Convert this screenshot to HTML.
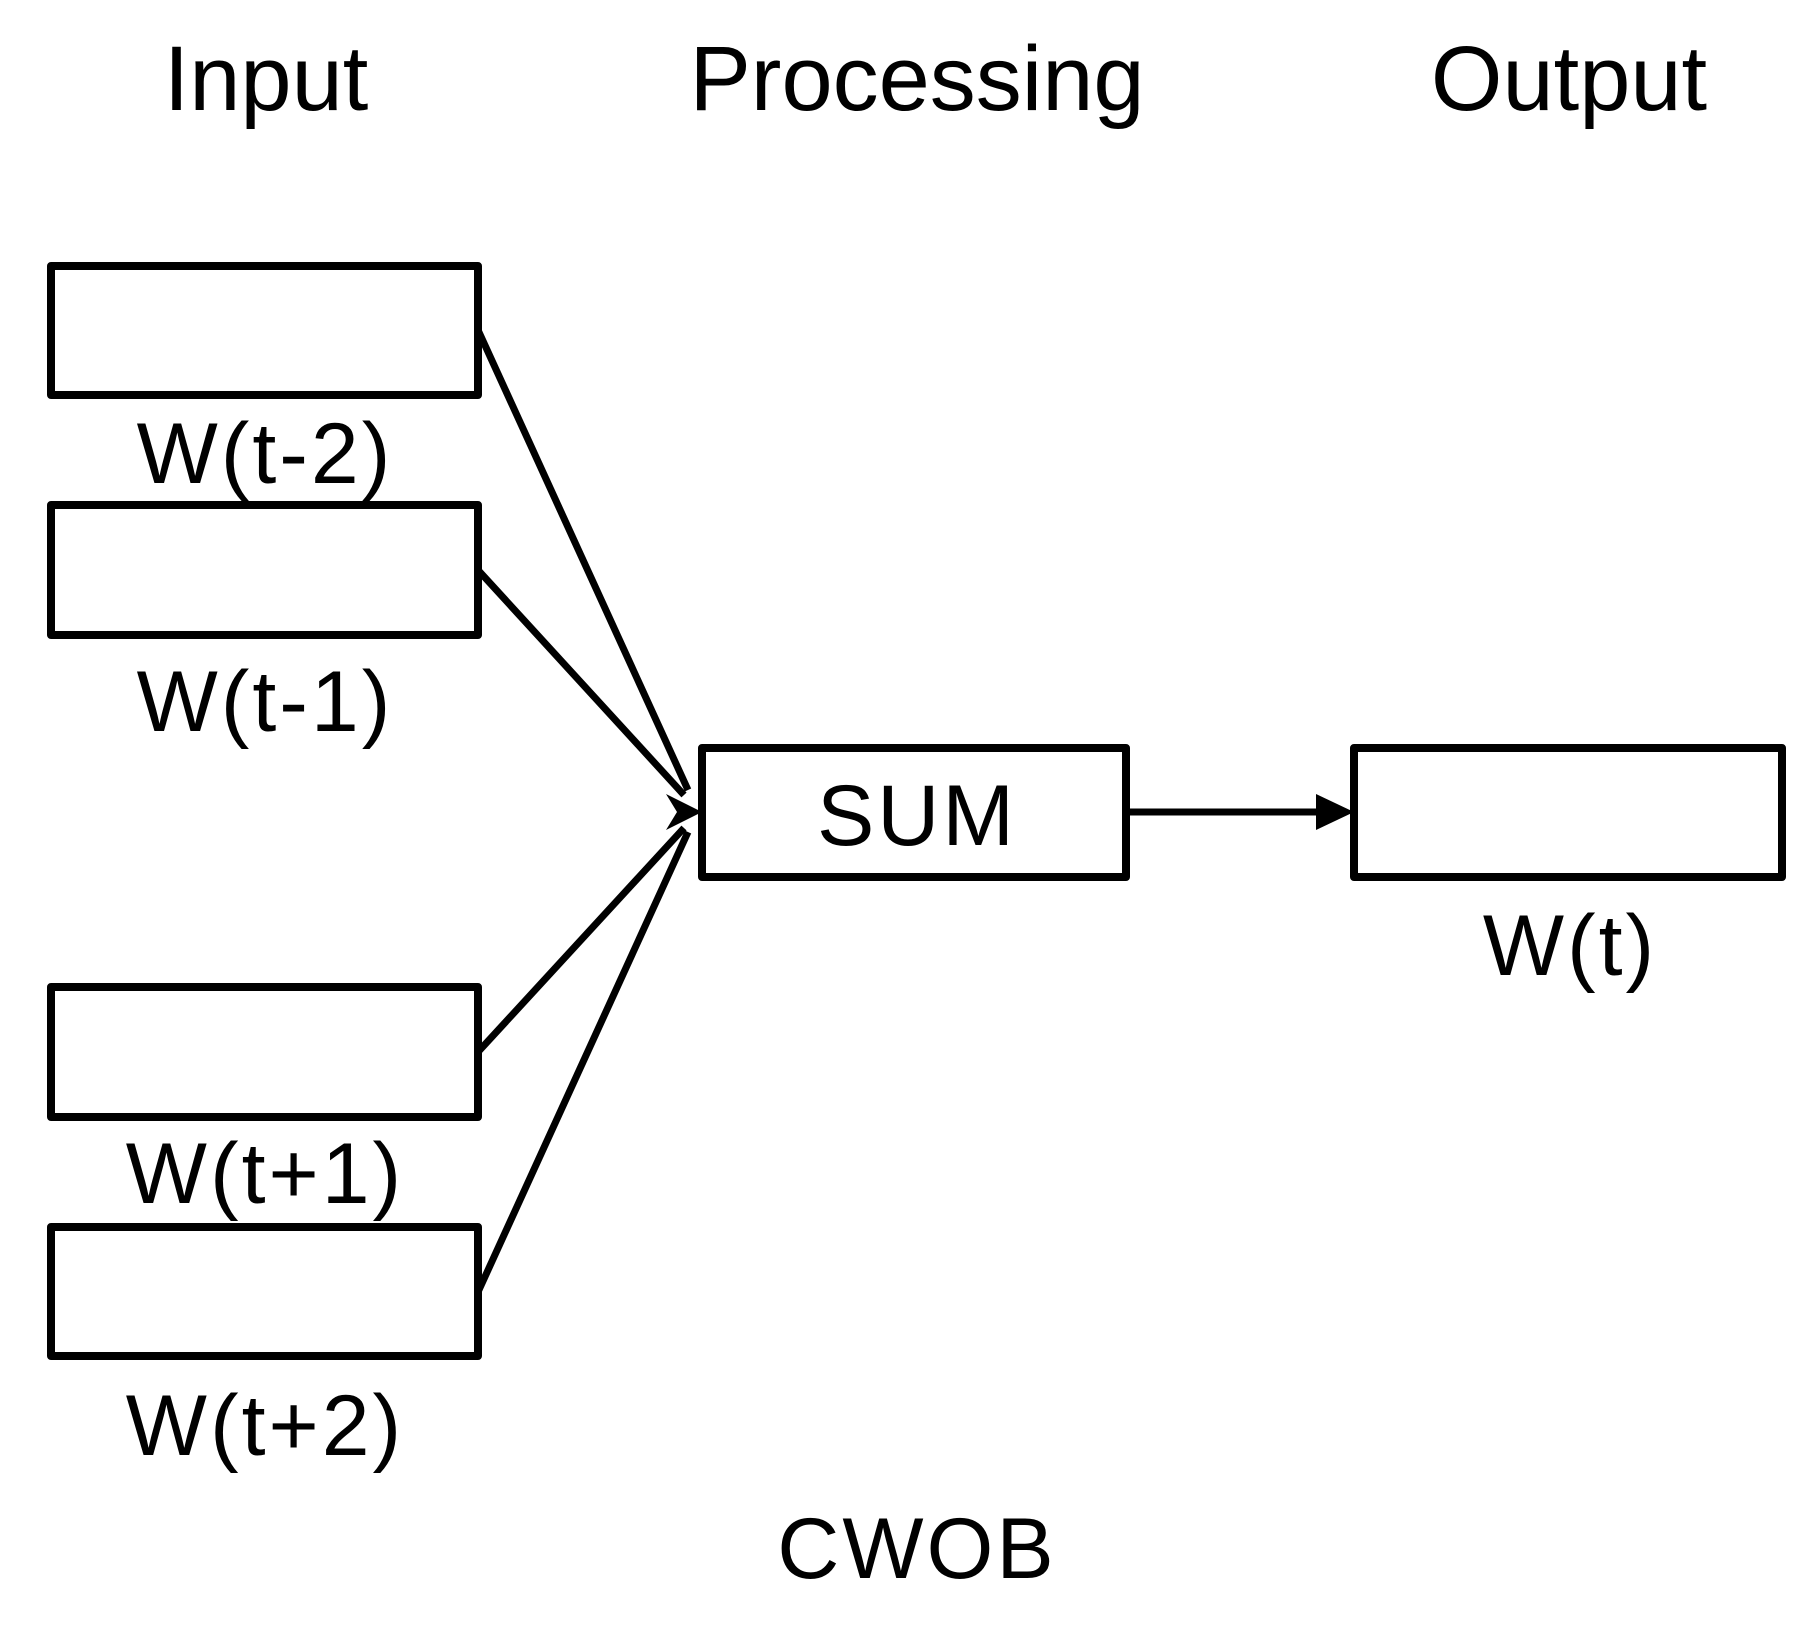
<!DOCTYPE html>
<html><head><meta charset="utf-8"><style>
html,body{margin:0;padding:0;background:#fff;}
svg{display:block;}
text{font-family:"Liberation Sans",Arial,sans-serif;fill:#000;}
</style></head><body>
<svg width="1815" height="1628" viewBox="0 0 1815 1628" xmlns="http://www.w3.org/2000/svg">
<g font-size="92" text-anchor="middle">
<text x="266" y="110">Input</text>
<text x="917" y="110">Processing</text>
<text x="1569" y="110">Output</text>
</g>
<g fill="#fff" stroke="#000" stroke-width="8" stroke-linejoin="round">
<rect x="51" y="266" width="427" height="129"/>
<rect x="51" y="505" width="427" height="130"/>
<rect x="51" y="987" width="427" height="130"/>
<rect x="51" y="1227" width="427" height="129"/>
<rect x="702" y="748" width="424" height="129"/>
<rect x="1354" y="748" width="428" height="129"/>
</g>
<g stroke="#000" stroke-width="7" fill="none">
<line x1="478" y1="330" x2="688" y2="790"/>
<line x1="478" y1="570" x2="684" y2="795"/>
<line x1="478" y1="1052" x2="684" y2="828"/>
<line x1="478" y1="1292" x2="688" y2="832"/>
<line x1="1126" y1="812" x2="1320" y2="812"/>
</g>
<g fill="#000">
<polygon points="702,812 666,794 677,812 666,830"/>
<polygon points="1354,812 1316,794 1316,830"/>
</g>
<g font-size="86" text-anchor="middle" letter-spacing="3">
<text x="265" y="483">W(t-2)</text>
<text x="265" y="731">W(t-1)</text>
<text x="265" y="1203">W(t+1)</text>
<text x="265" y="1455">W(t+2)</text>
<text x="1570" y="975">W(t)</text>
<text x="917" y="845">SUM</text>
<text x="917" y="1578">CWOB</text>
</g>
</svg>
</body></html>
